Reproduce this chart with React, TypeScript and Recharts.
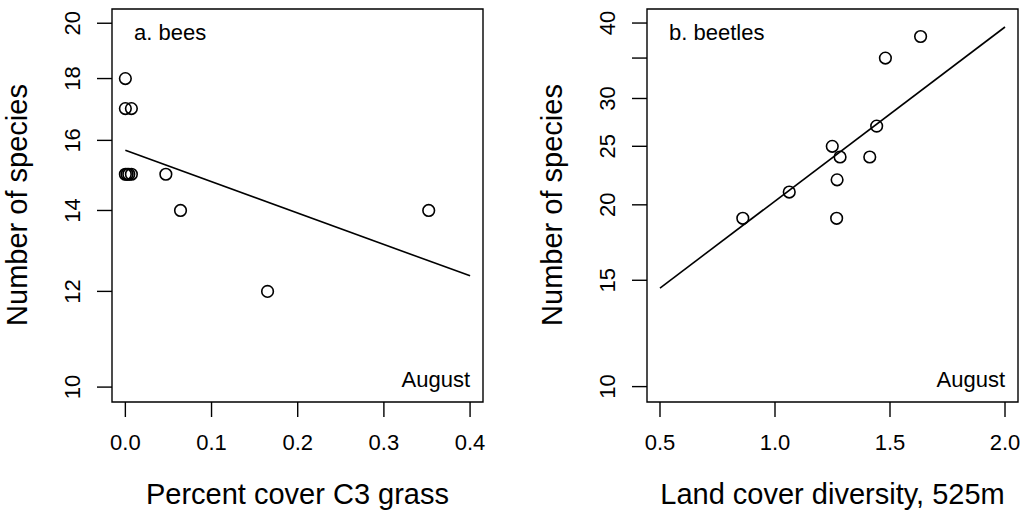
import { ComposedChart, Scatter, XAxis, YAxis, ReferenceArea, ReferenceLine } from "recharts";

// a. bees
const beesCover = [0.0, 0.0, 0.007, 0.0, 0.002, 0.004, 0.007, 0.047, 0.064, 0.165, 0.352];
const beesSpecies = [18, 17, 17, 15, 15, 15, 15, 15, 14, 12, 14];
const beesFitX = [0.0, 0.4];
const beesFitY = [15.7, 12.36];
const beesXTicks = [0, 0.1, 0.2, 0.3, 0.4];
const beesYTicks = [10, 12, 14, 16, 18, 20];

// b. beetles
const beetlesDiversity = [0.86, 1.062, 1.249, 1.283, 1.27, 1.268, 1.412, 1.442, 1.48, 1.633];
const beetlesSpecies = [19, 21, 25, 24, 22, 19, 24, 27, 35, 38];
const beetlesFitX = [0.5, 2.0];
const beetlesFitY = [14.56, 39.4];
const beetlesXTicks = [0.5, 1.0, 1.5, 2.0];
const beetlesYTicks = [10, 15, 20, 25, 30, 35, 40];
const beetlesYHidden = [35];

const FONT = "'Liberation Sans', Arial, sans-serif";

const toPoints = (xs: number[], ys: number[]) => xs.map((x, i) => ({ x, y: ys[i] }));

const OpenCircle = (props: any) => (
  <circle cx={props.cx} cy={props.cy} r={5.8} fill="none" stroke="#000" strokeWidth={1.6} />
);

const makeYTick = (hidden: number[]) => (props: any) => {
  const { x, y, payload } = props;
  if (hidden.includes(payload.value)) return <g />;
  return (
    <text
      x={x}
      y={y}
      transform={`rotate(-90, ${x}, ${y})`}
      textAnchor="middle"
      fontSize={22}
      fontFamily={FONT}
      fill="#000"
    >
      {payload.value}
    </text>
  );
};

interface PanelProps {
  left: number;
  width: number;
  yAxisWidth: number;
  marginRight: number;
  xs: number[];
  ys: number[];
  fitX: number[];
  fitY: number[];
  xDomain: [number, number];
  yDomain: [number, number];
  xTicks: number[];
  yTicks: number[];
  yHidden: number[];
  panelLabel: string;
  xTitle: string;
}

function Panel(p: PanelProps) {
  const pts = toPoints(p.xs, p.ys);
  const plotLeft = p.yAxisWidth;
  const plotRight = p.width - p.marginRight;
  return (
    <div style={{ position: "absolute", left: p.left, top: 0 }}>
      <ComposedChart
        width={p.width}
        height={517}
        margin={{ top: 9, right: p.marginRight, bottom: 0, left: 0 }}
      >
        <XAxis
          type="number"
          dataKey="x"
          domain={p.xDomain}
          ticks={p.xTicks}
          allowDataOverflow
          axisLine={false}
          tickSize={15}
          tickMargin={17}
          tickLine={{ stroke: "#000", strokeWidth: 1.4 }}
          tick={{ fill: "#000", fontSize: 22, fontFamily: FONT }}
          tickFormatter={(v: number) => v.toFixed(1)}
          height={115}
        />
        <YAxis
          type="number"
          dataKey="y"
          scale="log"
          domain={p.yDomain}
          ticks={p.yTicks}
          allowDataOverflow
          axisLine={false}
          tickSize={15}
          tickMargin={17}
          tickLine={{ stroke: "#000", strokeWidth: 1.4 }}
          tick={makeYTick(p.yHidden)}
          width={p.yAxisWidth}
        />
        <ReferenceArea
          x1={p.xDomain[0]}
          x2={p.xDomain[1]}
          y1={p.yDomain[0]}
          y2={p.yDomain[1]}
          fill="none"
          stroke="#000"
          strokeWidth={1.4}
          ifOverflow="visible"
        />
        <ReferenceLine
          segment={[
            { x: p.fitX[0], y: p.fitY[0] },
            { x: p.fitX[1], y: p.fitY[1] },
          ]}
          stroke="#000"
          strokeWidth={1.6}
          ifOverflow="visible"
        />
        <Scatter data={pts} shape={OpenCircle} isAnimationActive={false} />
        <g>
          <text x={plotLeft + 22} y={40} fontSize={22} fontFamily={FONT} fill="#000">
            {p.panelLabel}
          </text>
          <text x={plotRight - 13} y={387} textAnchor="end" fontSize={22} fontFamily={FONT} fill="#000">
            August
          </text>
          <text
            x={(plotLeft + plotRight) / 2}
            y={504}
            textAnchor="middle"
            fontSize={29}
            fontFamily={FONT}
            fill="#000"
          >
            {p.xTitle}
          </text>
          <text
            x={plotLeft - 85}
            y={205}
            transform={`rotate(-90, ${plotLeft - 85}, 205)`}
            textAnchor="middle"
            fontSize={29}
            fontFamily={FONT}
            fill="#000"
          >
            Number of species
          </text>
        </g>
      </ComposedChart>
    </div>
  );
}

export default function App() {
  return (
    <div style={{ position: "relative", width: 1024, height: 517, background: "#fff" }}>
      <style>{"body{margin:0}"}</style>
      <Panel
        left={0}
        width={520}
        yAxisWidth={112}
        marginRight={37}
        xs={beesCover}
        ys={beesSpecies}
        fitX={beesFitX}
        fitY={beesFitY}
        xDomain={[-0.0155, 0.415]}
        yDomain={[9.72, 20.55]}
        xTicks={beesXTicks}
        yTicks={beesYTicks}
        yHidden={[]}
        panelLabel="a. bees"
        xTitle="Percent cover C3 grass"
      />
      <Panel
        left={520}
        width={504}
        yAxisWidth={127}
        marginRight={6}
        xs={beetlesDiversity}
        ys={beetlesSpecies}
        fitX={beetlesFitX}
        fitY={beetlesFitY}
        xDomain={[0.4435, 2.0565]}
        yDomain={[9.43, 42.2]}
        xTicks={beetlesXTicks}
        yTicks={beetlesYTicks}
        yHidden={beetlesYHidden}
        panelLabel="b. beetles"
        xTitle="Land cover diversity, 525m"
      />
    </div>
  );
}
